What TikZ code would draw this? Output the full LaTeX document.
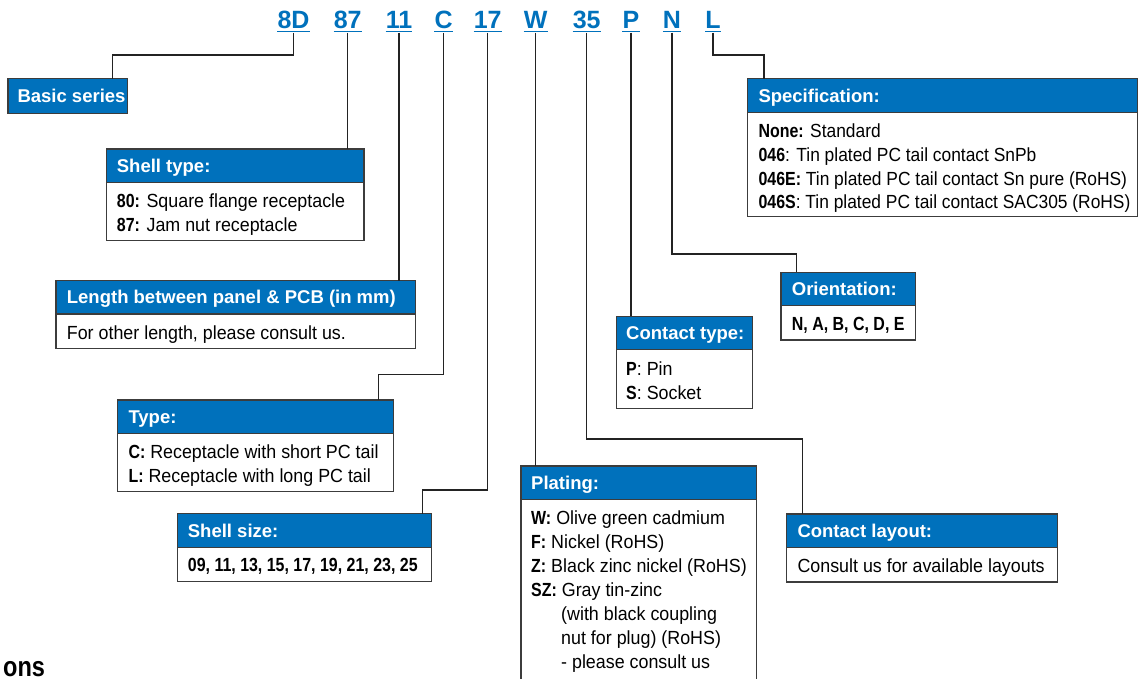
\documentclass[tikz,border=0pt]{standalone}
\usepackage{fontspec}
\setmainfont{Liberation Sans}
\newfontfamily\bodyfont[FakeStretch=0.94]{Liberation Sans}
\newfontfamily\specfont[FakeStretch=0.915]{Liberation Sans}
\newfontfamily\bodybold[FakeStretch=0.84]{Liberation Sans}
\definecolor{cblue}{RGB}{0,113,188}
\definecolor{cborder}{RGB}{60,60,60}
\definecolor{cline}{RGB}{35,35,35}
\newcommand{\bk}[1]{{\bodybold\bfseries #1}}
\newcommand{\sr}{\rule{0pt}{14.5pt}}
\tikzset{
  code/.style={anchor=base, inner sep=0pt, text=cblue, font=\bfseries\fontsize{25}{30}\selectfont},
  uline/.style={draw=cblue, line width=1.8pt},
  conn/.style={draw=cline, line width=1.3pt},
  hdr/.style={draw=cborder, line width=1.5pt, fill=cblue, anchor=north west, inner sep=0pt, outer sep=0pt},
  bodybox/.style={draw=cborder, line width=1.5pt, fill=white, anchor=north west, inner sep=0pt, outer sep=0pt},
  htxt/.style={anchor=base west, inner sep=0pt, text=white, font=\bfseries\fontsize{18.5}{22}\selectfont},
  btxt/.style={anchor=north west, inner sep=0pt, align=left, font=\bodyfont\fontsize{19}{23.8}\selectfont},
}
\begin{document}
\begin{tikzpicture}[x=1pt,y=-1pt]
\useasboundingbox (0,0) rectangle (1138,679);
\clip (0,0) rectangle (1138,679);

% ---- code letters
\node[code] (c8D) at (293.5,29) {8D};
\node[code] (c87) at (347.7,29) {87};
\node[code] (c11) at (399,29) {11};
\node[code] (cC)  at (443.7,29) {C};
\node[code] (c17) at (487.7,29) {17};
\node[code] (cW)  at (535.7,29) {W};
\node[code] (c35) at (586.7,29) {35};
\node[code] (cP)  at (631,29) {P};
\node[code] (cN)  at (672,29) {N};
\node[code] (cL)  at (713,29) {L};
\foreach \n in {c8D,c87,c11,cC,c17,cW,c35,cP,cN,cL}{
  \draw[uline] ([yshift=-2.6pt]\n.base west) -- ([yshift=-2.6pt]\n.base east);
}

% ---- boxes
% Basic series
\node[hdr, minimum width=119.7pt, minimum height=35pt] (basic) at (8,78.7) {};
\node[htxt] (basicT) at (17.3,102.6) {Basic series};

% Shell type
\node[bodybox, minimum width=257.7pt, minimum height=58.4pt] (shellB) at (106.3,182.3) {};
\node[hdr, minimum width=257.7pt, minimum height=33.3pt] (shellH) at (106.3,149) {};
\node[htxt] (shellT) at (116.7,172.3) {Shell type:};
\node[btxt] (shellX) at (116.7,192.8) {\sr\bk{80:} Square flange receptacle\\\bk{87:} Jam nut receptacle};

% Length
\node[bodybox, minimum width=359.7pt, minimum height=34.7pt] (lenB) at (56,314) {};
\node[hdr, minimum width=359.7pt, minimum height=33.3pt] (lenH) at (56,280.7) {};
\node[htxt] (lenT) at (66.7,303.9) {Length between panel \& PCB (in mm)};
\node[btxt] (lenX) at (66.7,324.3) {\sr For other length, please consult us.};

% Type
\node[bodybox, minimum width=276pt, minimum height=58pt] (typeB) at (117.7,433.3) {};
\node[hdr, minimum width=276pt, minimum height=33.3pt] (typeH) at (117.7,400) {};
\node[htxt] (typeT) at (128.3,423.3) {Type:};
\node[btxt, font=\bodyfont\fontsize{19}{24}\selectfont] (typeX) at (128.3,443.3) {\sr\bk{C:} Receptacle with short PC tail\\\bk{L:} Receptacle with long PC tail};

% Shell size
\node[bodybox, minimum width=254pt, minimum height=34pt] (sizeB) at (177.7,547.7) {};
\node[hdr, minimum width=254pt, minimum height=34pt] (sizeH) at (177.7,513.7) {};
\node[htxt] (sizeT) at (187.7,537.3) {Shell size:};
\node[btxt] (sizeX) at (187.7,557.1) {\sr\bk{09, 11, 13, 15, 17, 19, 21, 23, 25}};

% Plating
\node[bodybox, minimum width=235.7pt, minimum height=200pt] (platB) at (521,499.3) {};
\node[hdr, minimum width=235.7pt, minimum height=33.3pt] (platH) at (521,466) {};
\node[htxt] (platT) at (531,489.3) {Plating:};
\node[btxt, font=\bodyfont\fontsize{19}{24.1}\selectfont] (platX) at (531,509.3) {\sr\bk{W:} Olive green cadmium\\\bk{F:} Nickel (RoHS)\\\bk{Z:} Black zinc nickel (RoHS)\\\bk{SZ:} Gray tin-zinc};
\node[btxt, font=\bodyfont\fontsize{19}{24.1}\selectfont] (platY) at (561,605.7) {\sr(with black coupling\\nut for plug) (RoHS)\\- please consult us};

% Contact layout
\node[bodybox, minimum width=271pt, minimum height=34.7pt] (layB) at (786.7,547.3) {};
\node[hdr, minimum width=271pt, minimum height=33.3pt] (layH) at (786.7,514) {};
\node[htxt] (layT) at (797.3,537.3) {Contact layout:};
\node[btxt] (layX) at (797.3,557.3) {\sr Consult us for available layouts};

% Contact type
\node[bodybox, minimum width=136.4pt, minimum height=58.6pt] (ctB) at (616.3,349.7) {};
\node[hdr, minimum width=136.4pt, minimum height=33.4pt] (ctH) at (616.3,316.3) {};
\node[htxt] (ctT) at (626,339.6) {Contact type:};
\node[btxt, font=\bodyfont\fontsize{19}{24.2}\selectfont] (ctX) at (626,360.3) {\sr\bk{P}: Pin\\\bk{S}: Socket};

% Orientation
\node[bodybox, minimum width=134.7pt, minimum height=34.3pt] (oriB) at (781,305.7) {};
\node[hdr, minimum width=134.7pt, minimum height=33.4pt] (oriH) at (781,272.3) {};
\node[htxt] (oriT) at (791.7,295.6) {Orientation:};
\node[btxt] (oriX) at (791.7,316) {\sr\bk{N, A, B, C, D, E}};

% Specification
\node[bodybox, minimum width=390pt, minimum height=104.4pt] (specB) at (747.3,112.3) {};
\node[hdr, minimum width=390pt, minimum height=33.6pt] (specH) at (747.3,78.7) {};
\node[htxt] (specT) at (758.3,102.1) {Specification:};
\node[btxt, font=\specfont\fontsize{19}{23.8}\selectfont] (specX) at (758.3,122.8) {\sr\bk{None:} Standard\\\bk{046}: Tin plated PC tail contact SnPb\\\bk{046E:} Tin plated PC tail contact Sn pure (RoHS)\\\bk{046S}: Tin plated PC tail contact SAC305 (RoHS)};

% ---- connectors
\draw[conn] ([yshift=-3.6pt]c8D.base) -- ++(0,22.5) -| ([xshift=104.7pt]basic.north west);
\draw[conn] ([yshift=-3.6pt]c87.base) -- (c87.base |- shellH.north);
\draw[conn] ([yshift=-3.6pt]c11.base) -- (c11.base |- lenH.north);
\draw[conn] ([yshift=-3.6pt]cC.base) -- ++(0,342) -| ([xshift=260.6pt]typeH.north west);
\draw[conn] ([yshift=-3.6pt]c17.base) -- ++(0,457.4) -| ([xshift=244.6pt]sizeH.north west);
\draw[conn] ([yshift=-3.6pt]cW.base) -- (cW.base |- platH.north);
\draw[conn] ([yshift=-3.6pt]c35.base) -- ++(0,406.4) -| ([xshift=16pt]layH.north west);
\draw[conn] ([yshift=-3.6pt]cP.base) -- (cP.base |- ctH.north);
\draw[conn] ([yshift=-3.6pt]cN.base) -- ++(0,221.4) -| ([xshift=15.3pt]oriH.north west);
\draw[conn] ([yshift=-3.6pt]cL.base) -- ++(0,22.4) -| ([xshift=16.7pt]specH.north west);

% ---- cut-off heading
\node[anchor=base west, inner sep=0pt, font=\bodybold\bfseries\fontsize{28}{30}\selectfont] (ons) at (3,676.5) {ons};
\end{tikzpicture}
\end{document}
